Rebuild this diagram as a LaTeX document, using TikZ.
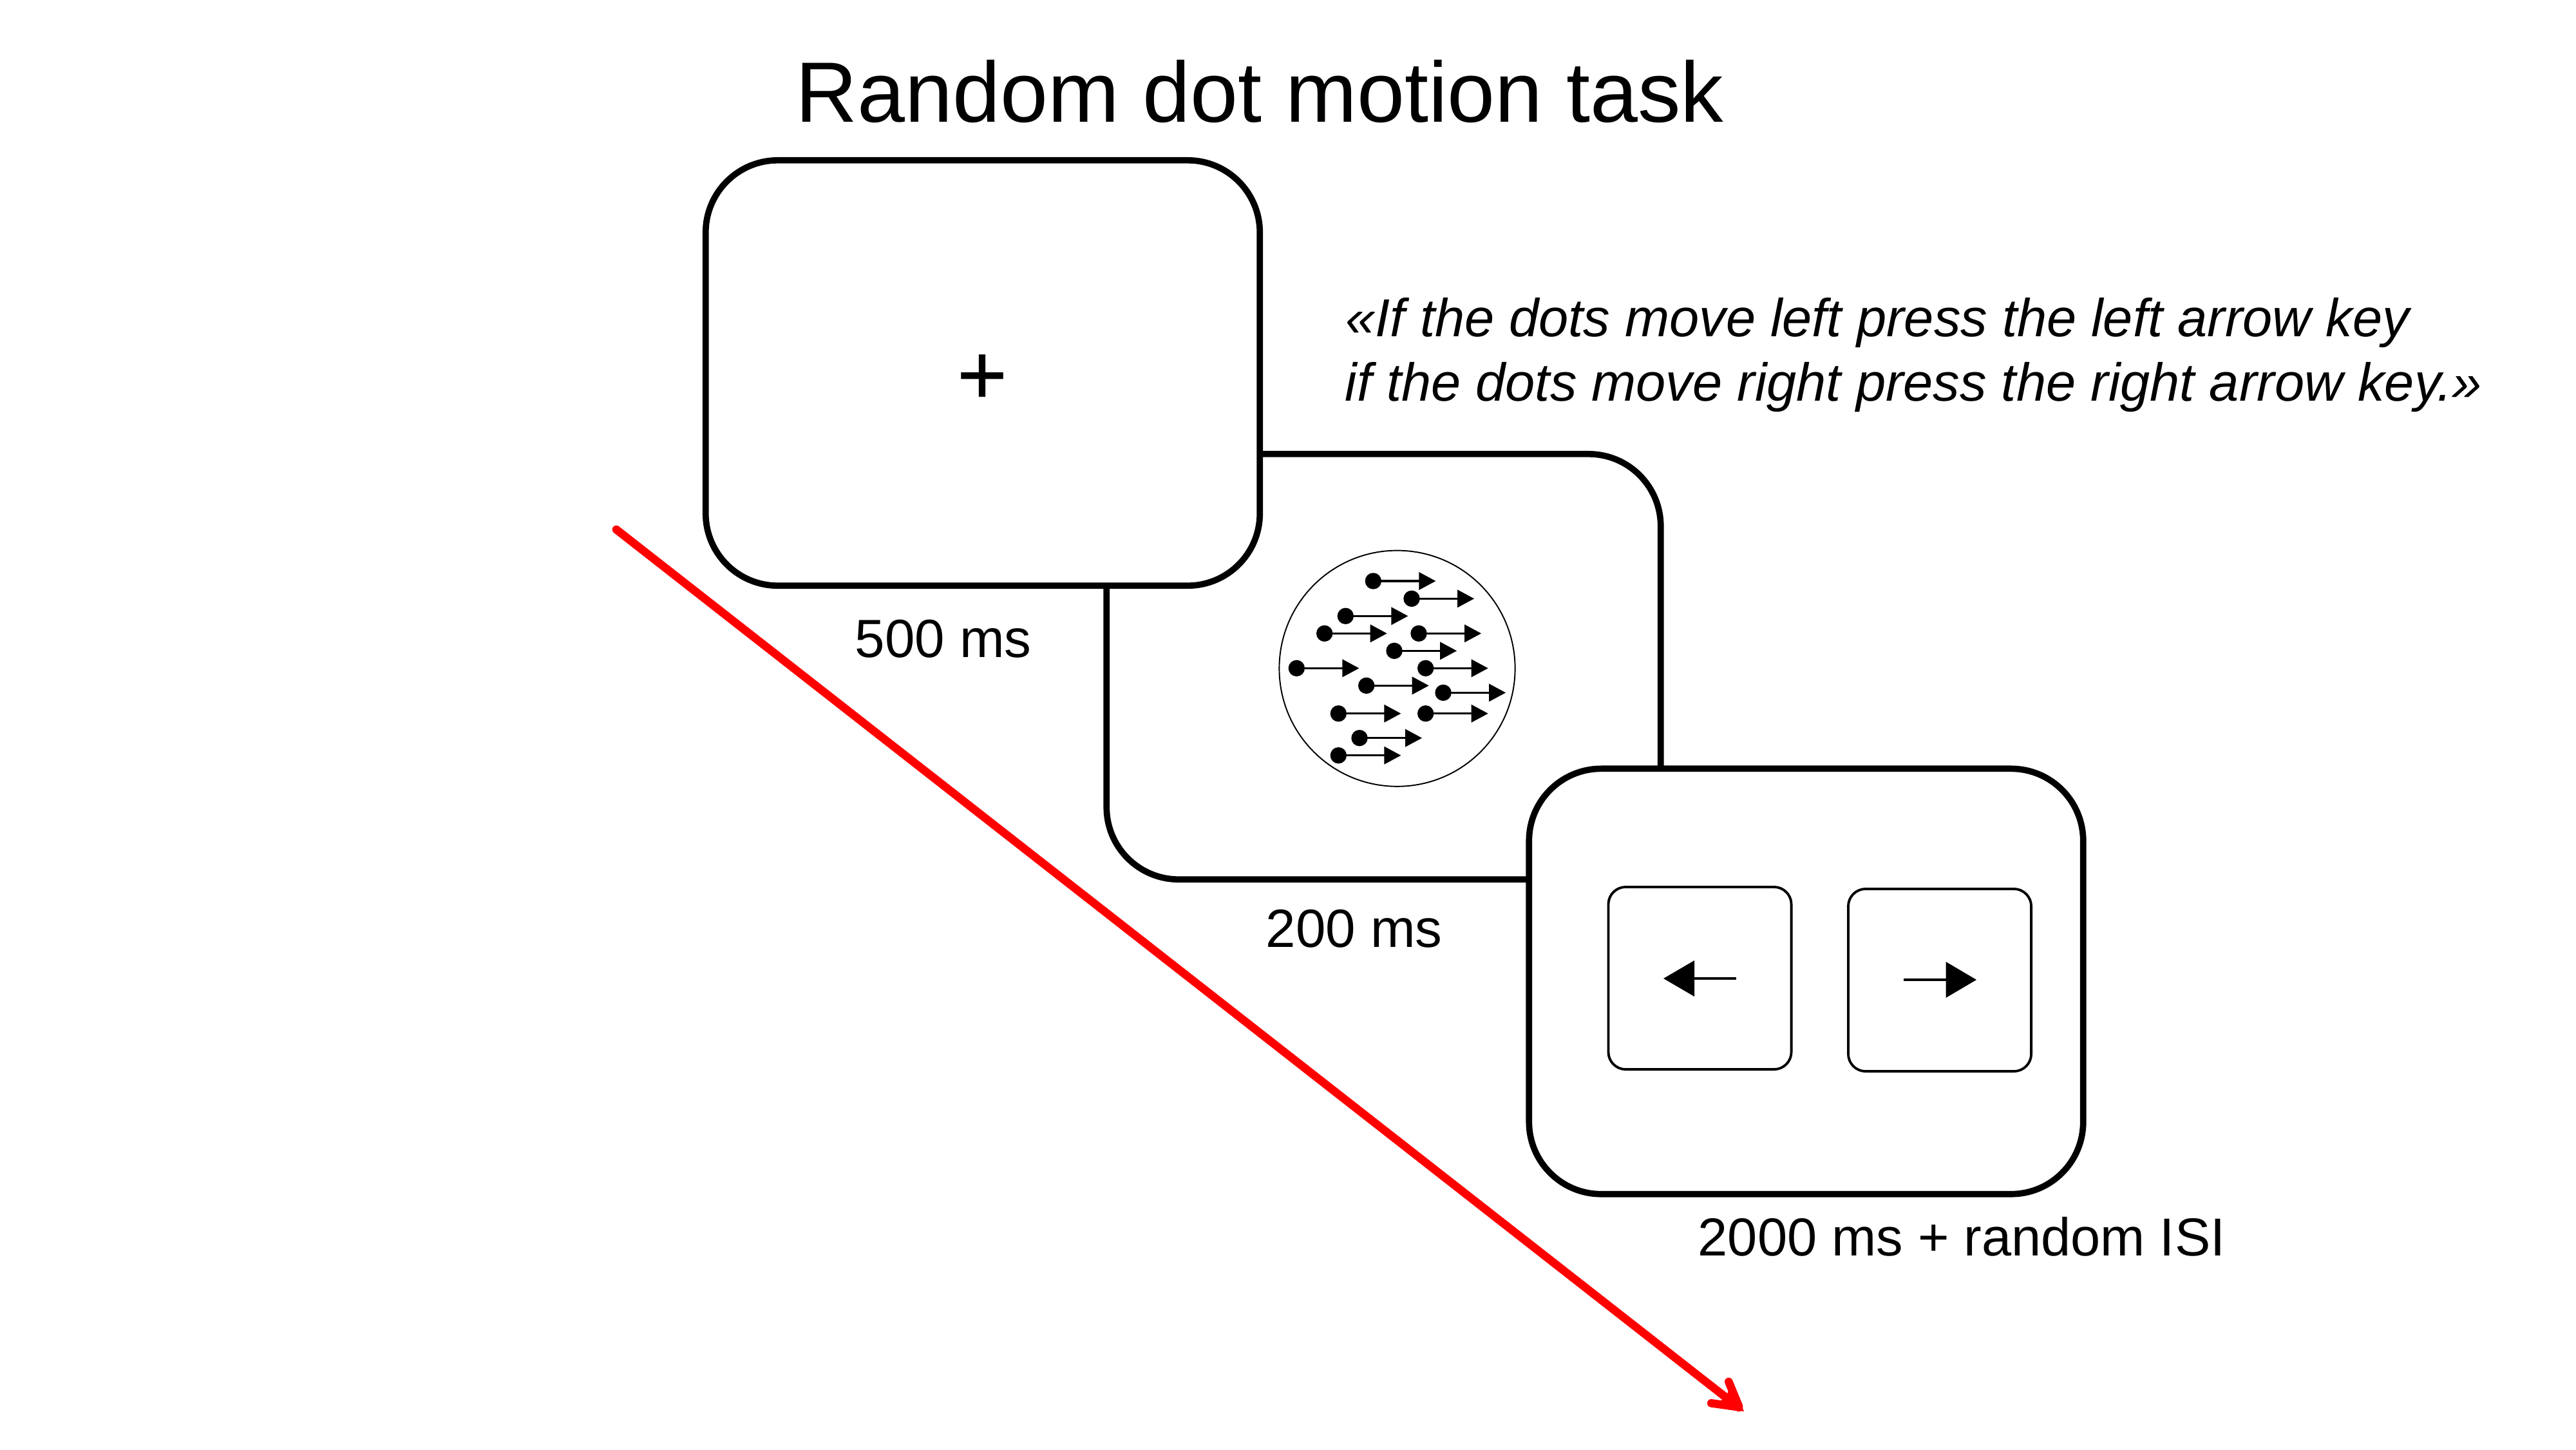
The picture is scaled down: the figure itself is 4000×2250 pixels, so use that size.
\documentclass[tikz,border=0pt]{standalone}
\usepackage{fontspec}
\setmainfont{Liberation Sans}
\newfontfamily\plusfont[FakeBold=0.6]{Liberation Sans}
\newcommand{\titlesize}{\fontsize{37.8}{42}\selectfont}
\newcommand{\labelsize}{\fontsize{23.75}{28}\selectfont}
\newcommand{\instrsize}{\fontsize{23.6}{28}\selectfont}
\begin{document}
\begin{tikzpicture}[x=0.01cm,y=-0.01cm,
  screen/.style={draw=black,fill=white,line width=9.7*0.2845pt,rounded corners=1.12cm,minimum width=8.6cm,minimum height=6.6cm,inner sep=0pt},
  keycap/.style={draw=black,fill=white,line width=1.1pt,rounded corners=0.27cm,minimum width=2.84cm,minimum height=2.83cm,inner sep=0pt},
  lbl/.style={anchor=base west,inner sep=0pt,font=\labelsize},
  instr/.style={anchor=base west,inner sep=0pt,font=\instrsize\itshape},
  dotline/.style={line width=1pt},
  keyline/.style={line width=1.3pt},
  redline/.style={draw=red,line width=3.6pt,line cap=round}]
\useasboundingbox (0,0) rectangle (4000,2250);
\fill[white] (0,0) rectangle (4000,2250);
\node[anchor=base west,inner sep=0pt,font=\titlesize] (title) at (1235,189) {Random dot motion task};
% screens
\node[screen] (s2) at (2148.5,1035) {};
\node[screen] (s1) at (1526,579) {};
\node[screen] (s3) at (2804.5,1523.5) {};
\node[inner sep=0pt,font=\titlesize\plusfont] (plus) at (1525,589) {+};
\node[lbl] (l1) at (1327,1020) {500 ms};
\node[lbl] (l2) at (1965,1470) {200 ms};
\node[anchor=base west,inner sep=0pt,font=\instrsize] (l3) at (2636,1949) {2000 ms + random ISI};
\node[instr] (i1) at (2089,522) {«If the dots move left press the left arrow key};
\node[instr] (i2) at (2088,622) {if the dots move right press the right arrow key.»};
% dot field
\node[draw=black,line width=0.55pt,circle,minimum size=3.66cm,inner sep=0pt] (field) at (2169.5,1037.7) {};
\foreach \X/\Y in {547/246,726/328,418/409,320/490,759/490,645/571,190/652,791/652,515/733,873/766,385/863,791/863,483/977,385/1058}{
  \pgfmathsetmacro{\px}{1950+\X/3}
  \pgfmathsetmacro{\py}{820+\Y/3}
  \fill (\px,\py) circle[radius=12.7];
  \draw[dotline] (\px,\py) -- ++(72,0);
  \fill (\px+71,\py-14) -- (\px+97,\py) -- (\px+71,\py+14) -- cycle;
}
% keys
\node[keycap] (kl) at (2639.5,1518.5) {};
\node[keycap] (kr) at (3012,1521.5) {};
\draw[keyline] (2631,1519) -- (2696,1519);
\fill (2583,1519) -- (2631,1491) -- (2631,1547) -- cycle;
\draw[keyline] (2956,1521) -- (3022,1521);
\fill (3069,1521) -- (3021.5,1493) -- (3021.5,1549) -- cycle;
% time arrow
\coordinate (rs) at (957,822);
\coordinate (rt) at (2700,2185);
\coordinate (rb1) at (2684.3,2145);
\coordinate (rb2) at (2657.3,2178.3);
\draw[redline] (rs) -- (rt);
\draw[redline] (rb1) -- (2700,2183);
\draw[redline] (rb2) -- (2698,2184);
\fill[red] (2708,2191) -- (2689,2143) -- (2680,2170) -- (2656,2183) -- cycle;
\end{tikzpicture}
\end{document}
